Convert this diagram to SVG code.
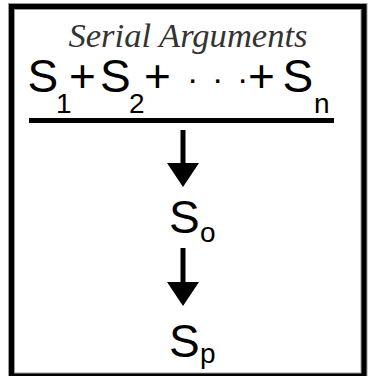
<svg xmlns="http://www.w3.org/2000/svg" width="376" height="376" viewBox="0 0 376 376">
  <style>
    .title { font-family: "Liberation Serif", "Times New Roman", serif; font-style: italic; font-size: 33px; fill: #333333; }
    .main { font-family: "Liberation Sans", Arial, sans-serif; font-size: 46px; fill: #000000; }
    .sub { font-family: "Liberation Sans", Arial, sans-serif; font-size: 28px; fill: #000000; }
    .dot { font-family: "Liberation Sans", Arial, sans-serif; font-size: 34px; fill: #000000; }
    .shaft { stroke: #000000; stroke-width: 5; fill: none; }
  </style>
  <defs>
    <marker id="head" markerUnits="userSpaceOnUse" markerWidth="24" markerHeight="32" viewBox="0 0 24 32" refX="0" refY="16" orient="auto">
      <path d="M0,0 L24,16 L0,32 Z" fill="#000000"/>
    </marker>
  </defs>
  <rect x="0" y="0" width="376" height="376" fill="#ffffff"/>
  <g id="frame">
    <rect x="11.5" y="6.5" width="352.5" height="369.5" fill="none" stroke="#9a9a9a" stroke-width="7"/>
    <rect x="11.5" y="6.5" width="352.5" height="369.5" fill="none" stroke="#000000" stroke-width="5"/>
  </g>
  <g id="title">
    <text class="title" x="188" y="47" text-anchor="middle" textLength="239" lengthAdjust="spacingAndGlyphs">Serial Arguments</text>
  </g>
  <g id="premises">
    <text class="main" y="92"><tspan x="27.5">S</tspan><tspan class="sub" x="56" y="113">1</tspan><tspan x="69" y="92">+</tspan><tspan x="100">S</tspan><tspan class="sub" x="129" y="113">2</tspan><tspan x="144" y="92">+</tspan><tspan class="dot" x="187" y="90">·</tspan><tspan class="dot" x="212" y="90">·</tspan><tspan class="dot" x="237" y="90">·</tspan><tspan x="248" y="92">+</tspan><tspan x="282.5">S</tspan><tspan class="sub" x="314" y="113">n</tspan></text>
    <rect x="29" y="118" width="305" height="5" fill="#000000"/>
  </g>
  <g id="conclusion-o">
    <text class="main" x="169" y="233" font-size="44">S<tspan class="sub" x="200" y="242">o</tspan></text>
  </g>
  <g id="conclusion-p">
    <text class="main" x="169" y="357" font-size="44">S<tspan class="sub" x="200" y="363">p</tspan></text>
  </g>
  <g id="connectors">
    <line class="shaft" x1="183" y1="130" x2="183" y2="163" marker-end="url(#head)"/>
    <line class="shaft" x1="183" y1="248" x2="183" y2="282" marker-end="url(#head)"/>
  </g>
</svg>
